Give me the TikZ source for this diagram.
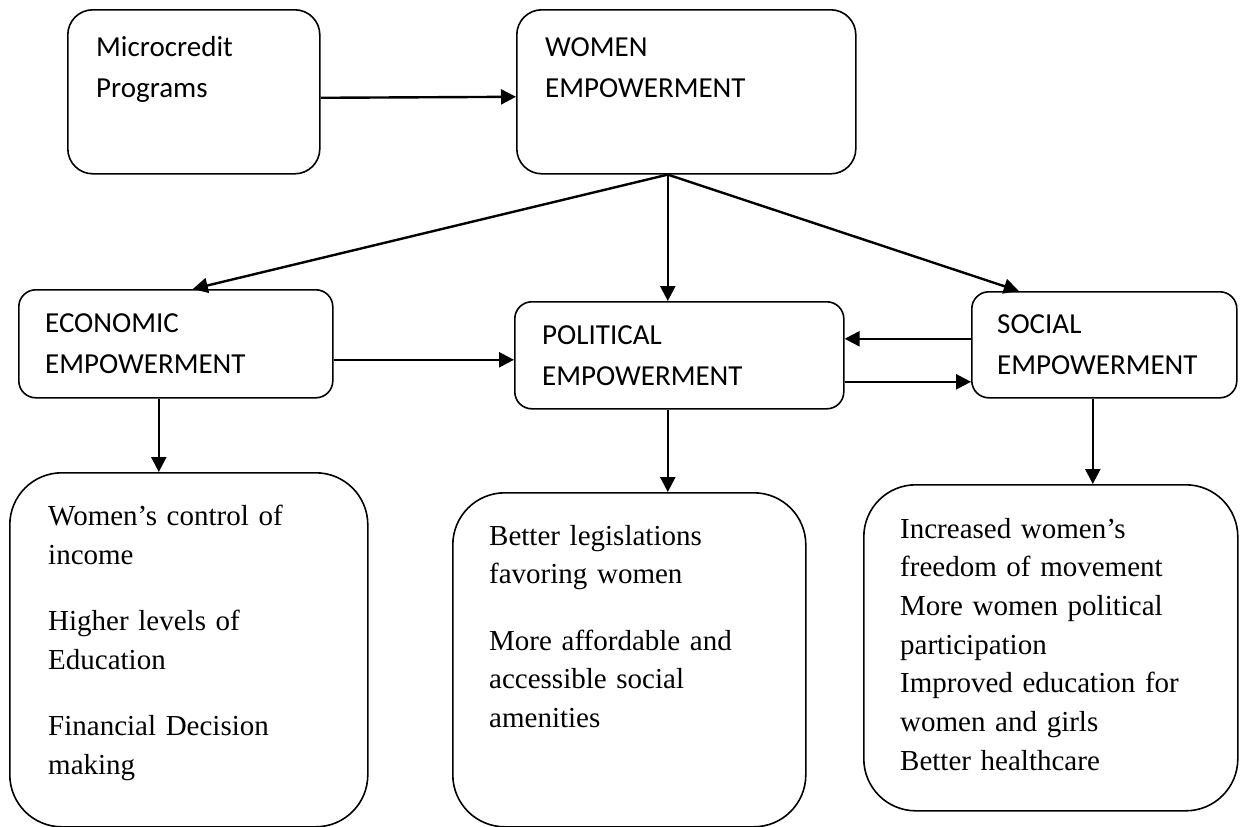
\documentclass[tikz,border=0pt]{standalone}
\usepackage{fontspec}
\setmainfont{Liberation Serif}
\newfontfamily\calibri{Carlito}
\usetikzlibrary{arrows.meta}

\tikzset{
  box/.style={draw, line width=1.6pt, anchor=north west, inner sep=0pt, rounded corners=#1},
  head/.style={anchor=base west, inner sep=0pt, text width=330pt, align=left,
    font=\calibri\fontsize{29}{41}\selectfont},
  item/.style={anchor=base west, inner sep=0pt, text width=340pt, align=left,
    font=\fontsize{29}{38.7}\selectfont},
  arr/.style={line width=2.4pt, -{Triangle[length=15pt,width=15pt]}}
}

\begin{document}
\begin{tikzpicture}[x=1pt,y=-1pt]
		\useasboundingbox (0,0) rectangle (1245,827);
		% top row
		\node[box=25pt, minimum width=252pt, minimum height=164pt] (micro) at (67,9) {};
		\node[box=25pt, minimum width=339pt, minimum height=164pt] (women) at (516,9) {};
		\node[head] at (96,56) {Microcredit\\Programs};
		\node[head] at (545,56) {WOMEN\\EMPOWERMENT};
		
		% middle row
		\node[box=17pt, minimum width=314pt, minimum height=108pt] (econ) at (18,289) {};
		\node[box=17pt, minimum width=329pt, minimum height=107pt] (polit) at (514,301) {};
		\node[box=17pt, minimum width=265pt, minimum height=106pt] (social) at (971,291) {};
		\node[head] at (45,332) {ECONOMIC\\EMPOWERMENT};
		\node[head] at (542,344) {POLITICAL\\EMPOWERMENT};
		\node[head] at (997,333) {SOCIAL\\EMPOWERMENT};
		
		% bottom row
		\node[box=52pt, minimum width=358pt, minimum height=354pt] (econlist) at (9,472) {};
		\node[box=52pt, minimum width=353pt, minimum height=334pt] (politlist) at (452,492) {};
		\node[box=52pt, minimum width=374pt, minimum height=326pt] (sociallist) at (863,484) {};
		\node[item, font=\fontsize{29}{39}\selectfont] at (48,525)
		{Women’s control of\\income\\[27pt]Higher levels of\\Education\\[27pt]Financial Decision\\making};
		\node[item, font=\fontsize{29}{38.5}\selectfont] at (489,545)
		{Better legislations\\favoring women\\[28pt]More affordable and\\accessible social\\amenities};
		\node[item] at (900,538)
		{Increased women’s\\freedom of movement\\More women political\\participation\\Improved education for\\women and girls\\Better healthcare};
		
		% arrows
		\draw[arr] ([yshift=-6pt]micro.east) -- ([yshift=-5pt]women.west);
		\draw[arr] ([xshift=-18.5pt]women.south) -- ([xshift=17pt]econ.north);
		\draw[arr] ([xshift=-18.5pt]women.south) -- ([xshift=-11.5pt]polit.north);
		\draw[arr] ([xshift=-18.5pt]women.south) -- ([xshift=-85.5pt]social.north);
		\draw[arr] ([yshift=-16pt]econ.east) -- ([yshift=-4.5pt]polit.west);
		\draw[arr] ([yshift=6pt]social.west) -- ([yshift=16.5pt]polit.east);
		\draw[arr] ([yshift=-26.5pt]polit.east) -- ([yshift=-37pt]social.west);
		\draw[arr] ([xshift=-17pt]econ.south) -- ([xshift=-30pt]econlist.north);
		\draw[arr] ([xshift=-11.5pt]polit.south) -- ([xshift=38.5pt]politlist.north);
		\draw[arr] ([xshift=-11.5pt]social.south) -- ([xshift=42pt]sociallist.north);
		\end{tikzpicture}
\end{document}
